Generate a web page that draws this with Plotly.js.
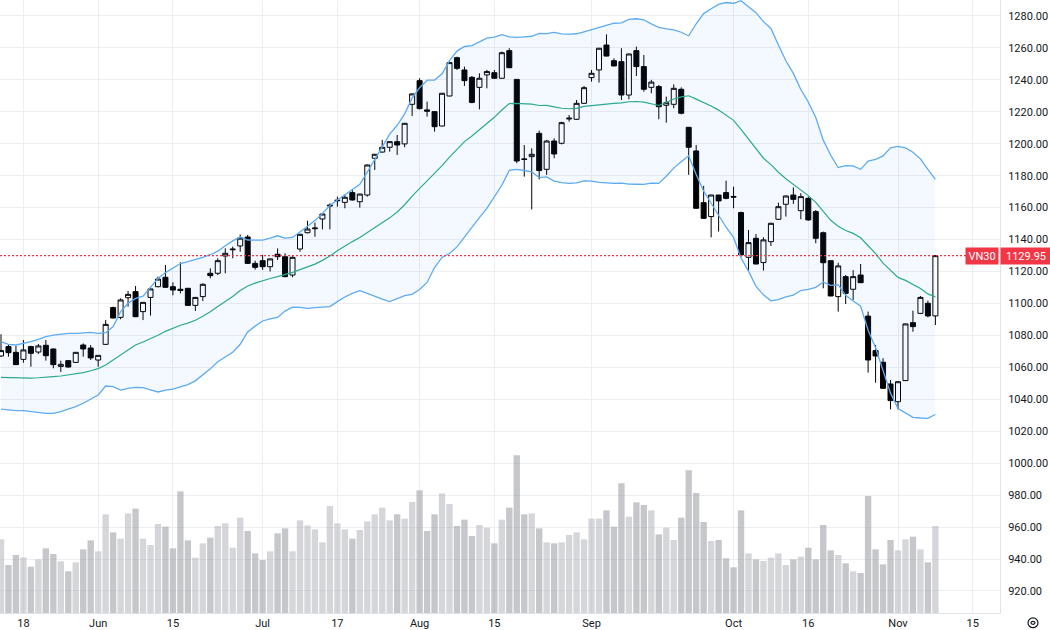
<!DOCTYPE html>
<html>
<head>
<meta charset="utf-8">
<script src="https://cdn.plot.ly/plotly-3.0.1.min.js"></script>
<style>
  html, body { margin: 0; padding: 0; background: #ffffff; }
  #chart { width: 1050px; height: 630px; }
</style>
</head>
<body>
<div id="chart"></div>
<script>
// VN30 daily sessions, 15 May - 8 Nov 2023
const sessions = [
  '2023-05-15','2023-05-16','2023-05-17','2023-05-18','2023-05-19','2023-05-22','2023-05-23','2023-05-24','2023-05-25','2023-05-26','2023-05-29','2023-05-30','2023-05-31',
  '2023-06-01','2023-06-02','2023-06-05','2023-06-06','2023-06-07','2023-06-08','2023-06-09','2023-06-12','2023-06-13','2023-06-14','2023-06-15','2023-06-16','2023-06-19','2023-06-20','2023-06-21','2023-06-22','2023-06-23','2023-06-26','2023-06-27','2023-06-28','2023-06-29','2023-06-30',
  '2023-07-03','2023-07-04','2023-07-05','2023-07-06','2023-07-07','2023-07-10','2023-07-11','2023-07-12','2023-07-13','2023-07-14','2023-07-17','2023-07-18','2023-07-19','2023-07-20','2023-07-21','2023-07-24','2023-07-25','2023-07-26','2023-07-27','2023-07-28','2023-07-31',
  '2023-08-01','2023-08-02','2023-08-03','2023-08-04','2023-08-07','2023-08-08','2023-08-09','2023-08-10','2023-08-11','2023-08-14','2023-08-15','2023-08-16','2023-08-17','2023-08-18','2023-08-21','2023-08-22','2023-08-23','2023-08-24','2023-08-25','2023-08-28','2023-08-29','2023-08-30','2023-08-31',
  '2023-09-05','2023-09-06','2023-09-07','2023-09-08','2023-09-11','2023-09-12','2023-09-13','2023-09-14','2023-09-15','2023-09-18','2023-09-19','2023-09-20','2023-09-21','2023-09-22','2023-09-25','2023-09-26','2023-09-27','2023-09-28','2023-09-29',
  '2023-10-02','2023-10-03','2023-10-04','2023-10-05','2023-10-06','2023-10-09','2023-10-10','2023-10-11','2023-10-12','2023-10-13','2023-10-16','2023-10-17','2023-10-18','2023-10-19','2023-10-20','2023-10-23','2023-10-24','2023-10-25','2023-10-26','2023-10-27','2023-10-30','2023-10-31',
  '2023-11-01','2023-11-02','2023-11-03','2023-11-06','2023-11-07','2023-11-08'
];
// sessions still to come, so the time scale runs on past the last bar
const upcoming = ['2023-11-09','2023-11-10','2023-11-13','2023-11-14','2023-11-15'];

const open = [
  1067.1,1073.0,1069.4,1065.0,1073.0,1069.6,1073.8,1071.5,1060.6,1064.2,1063.1,1074.0,1072.1,
  1064.6,1074.4,1097.4,1091.3,1103.6,1107.4,1094.9,1103.8,1110.5,1116.4,1110.5,1108.9,1109.5,1098.8,1104.3,1118.9,1118.9,1129.7,1133.6,1136.0,1141.6,1125.1,
  1126.8,1123.0,1130.8,1129.3,1117.8,1134.1,1144.3,1146.8,1152.9,1161.0,1164.3,1163.3,1169.4,1163.7,1167.9,1190.9,1194.8,1197.8,1201.3,1199.9,1224.7,
  1239.5,1221.2,1220.1,1211.1,1229.9,1253.9,1246.2,1241.6,1235.3,1243.1,1244.5,1241.0,1258.3,1240.3,1190.5,1191.9,1206.5,1184.0,1201.7,1200.3,1215.5,1215.3,1225.3,
  1241.4,1246.2,1261.8,1252.0,1251.4,1230.5,1258.3,1248.3,1235.3,1235.8,1224.1,1224.7,1234.1,1210.3,1195.5,1163.1,1154.4,1167.9,1169.4,
  1167.0,1156.9,1128.9,1140.8,1125.6,1138.7,1152.7,1162.1,1167.9,1158.1,1165.8,1157.5,1144.3,1126.8,1104.3,1116.8,1108.9,1117.8,1092.1,1070.5,1063.2,1049.6,
  1038.5,1051.7,1088.0,1093.8,1100.1,1092.2
];
const high = [
  1080.7,1074.0,1073.4,1077.1,1073.5,1074.6,1077.1,1071.8,1064.2,1064.5,1069.6,1075.0,1074.0,
  1067.6,1089.6,1098.0,1103.2,1107.8,1110.9,1100.9,1109.3,1116.8,1124.1,1113.2,1125.8,1109.7,1104.0,1112.6,1122.0,1128.3,1134.5,1135.6,1143.2,1142.9,1126.8,
  1130.4,1128.1,1134.5,1131.4,1129.5,1143.5,1151.8,1150.6,1156.3,1162.7,1166.9,1167.9,1171.1,1168.7,1187.0,1193.6,1202.4,1201.5,1205.5,1213.0,1231.4,
  1241.0,1226.4,1220.5,1231.8,1251.4,1254.5,1248.3,1242.4,1244.1,1246.2,1246.2,1257.7,1259.8,1240.5,1199.2,1197.1,1208.2,1202.4,1203.4,1213.8,1218.0,1227.4,1236.2,
  1246.2,1260.0,1268.5,1253.5,1259.8,1256.4,1260.8,1255.6,1240.0,1236.8,1229.5,1237.2,1235.3,1210.5,1199.2,1173.6,1168.0,1168.0,1176.9,
  1173.1,1157.5,1146.0,1143.5,1141.4,1150.5,1163.1,1167.5,1172.7,1169.0,1166.9,1158.5,1145.0,1127.0,1125.5,1117.8,1120.9,1124.7,1094.9,1074.0,1065.7,1052.1,
  1051.2,1087.5,1095.5,1104.7,1101.8,1130.0
];
const low = [
  1066.5,1066.7,1061.5,1062.9,1060.4,1068.4,1064.2,1059.4,1057.1,1059.8,1062.9,1066.7,1064.6,
  1060.4,1074.0,1090.7,1090.1,1098.0,1091.5,1089.6,1092.4,1110.1,1109.9,1105.1,1106.3,1098.6,1095.3,1101.5,1115.7,1117.8,1118.9,1128.3,1132.4,1124.9,1121.2,
  1121.0,1120.0,1127.2,1116.4,1116.4,1132.4,1143.9,1141.8,1146.4,1146.4,1160.6,1159.6,1164.4,1160.0,1166.9,1183.6,1194.4,1195.0,1193.0,1197.8,1217.4,
  1221.5,1217.0,1207.6,1210.9,1229.7,1246.2,1236.2,1225.3,1221.5,1234.7,1240.8,1240.8,1247.4,1187.8,1179.4,1158.9,1177.7,1180.5,1190.9,1199.6,1213.8,1214.9,1224.9,
  1238.9,1238.3,1254.7,1248.5,1227.4,1227.8,1242.4,1232.6,1231.6,1215.3,1213.2,1222.2,1218.4,1180.5,1159.4,1153.0,1141.4,1145.0,1165.2,
  1159.6,1129.3,1120.0,1124.5,1120.6,1136.0,1152.3,1154.4,1162.3,1152.7,1151.8,1137.7,1109.5,1104.5,1094.9,1099.7,1102.2,1112.8,1056.7,1050.4,1046.5,1033.7,
  1033.7,1051.5,1082.3,1093.4,1091.3,1086.5
];
const close = [
  1070.5,1069.2,1061.7,1070.9,1068.8,1073.4,1067.3,1061.7,1061.9,1060.2,1069.4,1071.5,1065.9,
  1067.5,1086.9,1090.9,1102.2,1105.7,1091.7,1100.7,1109.1,1115.3,1110.1,1108.4,1108.1,1098.8,1103.8,1112.0,1117.4,1126.8,1131.4,1134.0,1140.9,1125.1,1122.6,
  1123.0,1127.9,1129.3,1116.8,1128.9,1143.3,1146.6,1147.2,1156.0,1161.5,1164.6,1166.5,1164.8,1168.5,1186.7,1193.4,1197.8,1201.3,1199.2,1212.8,1231.2,
  1222.0,1220.4,1210.7,1231.6,1250.8,1247.2,1239.5,1225.9,1241.0,1245.2,1241.0,1257.0,1247.6,1189.2,1190.2,1193.4,1183.2,1201.7,1193.6,1213.2,1216.0,1225.3,1235.1,
  1244.1,1259.8,1254.9,1248.7,1230.5,1256.2,1248.3,1234.1,1238.6,1223.2,1225.7,1234.7,1219.1,1197.8,1159.6,1153.3,1167.9,1164.2,1165.8,
  1166.6,1130.4,1138.1,1124.7,1139.8,1150.2,1160.6,1167.3,1165.2,1166.9,1152.3,1140.8,1125.5,1104.7,1123.5,1106.3,1116.8,1113.0,1064.6,1067.1,1046.9,1039.2,
  1051.0,1087.2,1085.5,1103.8,1092.2,1129.95
];
// matched volume, millions of shares
const volume = [
  221,144,174,167,139,161,194,177,155,125,152,191,218,
  185,296,242,223,299,313,223,204,267,259,194,365,218,166,209,226,261,269,196,286,246,179,
  159,185,239,254,185,278,263,251,212,321,269,251,223,249,275,296,316,278,296,283,333,
  368,246,296,359,327,261,280,231,264,256,209,280,316,473,296,299,254,212,209,212,234,242,221,
  283,283,308,259,389,289,332,324,308,236,256,219,286,428,360,273,216,219,164,
  137,308,179,161,156,166,179,144,161,169,196,161,264,188,174,149,125,120,351,191,146,219,
  188,221,229,191,152,261
];
// Bollinger (20, 2) levels for the first sessions, whose 20-day window starts before 15 May
const bandUpperHead = [1076.1,1074.4,1074.0,1075.0,1076.1,1077.5,1079.2,1080.2,1080.7,1081.3,1081.3,1081.7,1081.9,1081.3,1081.7,1085.5,1094.9,1100.1,1103.2];
const bandMidHead   = [1053.7,1053.5,1053.3,1053.3,1053.3,1053.5,1053.7,1054.2,1054.6,1055.2,1055.8,1056.7,1057.9,1059.2,1061.5,1064.6,1067.7,1070.9,1074.0];
const bandLowerHead = [1033.9,1033.3,1032.9,1032.9,1032.3,1031.8,1031.2,1031.2,1032.3,1033.9,1035.4,1037.5,1040.0,1042.7,1048.3,1047.9,1045.8,1046.9,1047.5];

// time-scale labels
const timeTickDates  = ['2023-05-18','2023-06-01','2023-06-15','2023-07-03','2023-07-17','2023-08-01','2023-08-15','2023-09-05','2023-10-02','2023-10-16','2023-11-01','2023-11-15'];
const timeTickLabels = ['18','Jun','15','Jul','17','Aug','15','Sep','Oct','16','Nov','15'];
const symbol = 'VN30';

// ---- build ----
const allDays = sessions.concat(upcoming);
const xs = sessions.map((d, i) => i);
const tickPos = timeTickDates.map(d => allDays.indexOf(d));

const period = 20, mult = 2;
const upper = [], mid = [], lower = [];
for (let i = 0; i < close.length; i++) {
  if (i < period - 1) {
    upper.push(bandUpperHead[i]); mid.push(bandMidHead[i]); lower.push(bandLowerHead[i]);
    continue;
  }
  const win = close.slice(i - period + 1, i + 1);
  const m = win.reduce((a, b) => a + b, 0) / period;
  const sd = Math.sqrt(win.reduce((a, b) => a + (b - m) * (b - m), 0) / period);
  mid.push(m); upper.push(m + mult * sd); lower.push(m - mult * sd);
}

const volColors = close.map((c, i) => c >= open[i] ? 'rgba(178,180,188,0.55)' : 'rgba(156,158,166,0.58)');
const last = close[close.length - 1];
const red = '#f23645';

const traces = [
  { type: 'scatter', mode: 'lines', x: xs, y: lower, line: { color: '#5eabf2', width: 1.3 }, hoverinfo: 'skip', showlegend: false },
  { type: 'scatter', mode: 'lines', x: xs, y: upper, line: { color: '#5eabf2', width: 1.3 }, fill: 'tonexty', fillcolor: 'rgba(33,150,243,0.055)', hoverinfo: 'skip', showlegend: false },
  { type: 'scatter', mode: 'lines', x: xs, y: mid, line: { color: '#2ea993', width: 1.2 }, hoverinfo: 'skip', showlegend: false },
  { type: 'candlestick', x: xs, open: open, high: high, low: low, close: close,
    increasing: { line: { color: '#000000', width: 1 }, fillcolor: '#ffffff' },
    decreasing: { line: { color: '#000000', width: 1 }, fillcolor: '#000000' },
    whiskerwidth: 0, hoverinfo: 'skip', showlegend: false },
  { type: 'bar', x: xs, y: volume, yaxis: 'y2', marker: { color: volColors, line: { width: 0 } }, hoverinfo: 'skip', showlegend: false }
];

const plotW = 1000, pxPerBar = 7.475, firstBarPx = 1;
const x0 = -firstBarPx / pxPerBar;

const layout = {
  width: 1050, height: 630,
  margin: { l: 0, r: 50, t: 0, b: 17, pad: 0 },
  paper_bgcolor: '#ffffff', plot_bgcolor: '#ffffff',
  font: { family: 'Roboto, "Open Sans", sans-serif', size: 11, color: '#131722' },
  hovermode: false, dragmode: false, showlegend: false,
  bargap: 0.15, boxgap: 0.33, boxgroupgap: 0,
  xaxis: {
    type: 'linear', range: [x0, x0 + plotW / pxPerBar],
    tickmode: 'array', tickvals: tickPos, ticktext: timeTickLabels,
    showgrid: true, gridcolor: '#eceef2', gridwidth: 1,
    showline: true, linecolor: '#e0e3eb', linewidth: 1,
    ticks: '', zeroline: false, rangeslider: { visible: false },
    tickfont: { size: 11, color: '#131722' }, fixedrange: true
  },
  yaxis: {
    side: 'right', range: [906.2, 1290], tick0: 0, dtick: 20, tickformat: '.2f',
    showgrid: true, gridcolor: '#eceef2', gridwidth: 1,
    showline: true, linecolor: '#e0e3eb', linewidth: 1, mirror: false,
    ticks: 'outside', ticklen: 5, tickcolor: 'rgba(0,0,0,0)',
    zeroline: false, tickfont: { size: 11, color: '#131722' }, fixedrange: true
  },
  yaxis2: { overlaying: 'y', range: [0, 1839], visible: false, showgrid: false, fixedrange: true },
  shapes: [
    { type: 'line', xref: 'paper', yref: 'y', x0: 0, x1: 1, y0: last, y1: last, line: { color: red, width: 1.2, dash: '2px,2px' } },
    { type: 'circle', xref: 'paper', yref: 'paper', x0: 1.028, x1: 1.038, y0: -0.024, y1: -0.008, line: { color: '#131722', width: 1.2 } },
    { type: 'circle', xref: 'paper', yref: 'paper', x0: 1.031, x1: 1.035, y0: -0.0185, y1: -0.0135, line: { color: '#131722', width: 1.2 } }
  ],
  annotations: [
    { xref: 'paper', yref: 'y', x: 0.999, y: last, xanchor: 'right', yanchor: 'middle', text: symbol, showarrow: false,
      bgcolor: red, font: { color: '#ffffff', size: 11 }, width: 30, height: 14, borderpad: 1 },
    { xref: 'paper', yref: 'y', x: 1, y: last, xanchor: 'left', yanchor: 'middle', text: last.toFixed(2), showarrow: false,
      bgcolor: red, font: { color: '#ffffff', size: 11 }, width: 48, height: 14, borderpad: 1 }
  ]
};

Plotly.newPlot('chart', traces, layout, { staticPlot: true, displayModeBar: false });
</script>
</body>
</html>
